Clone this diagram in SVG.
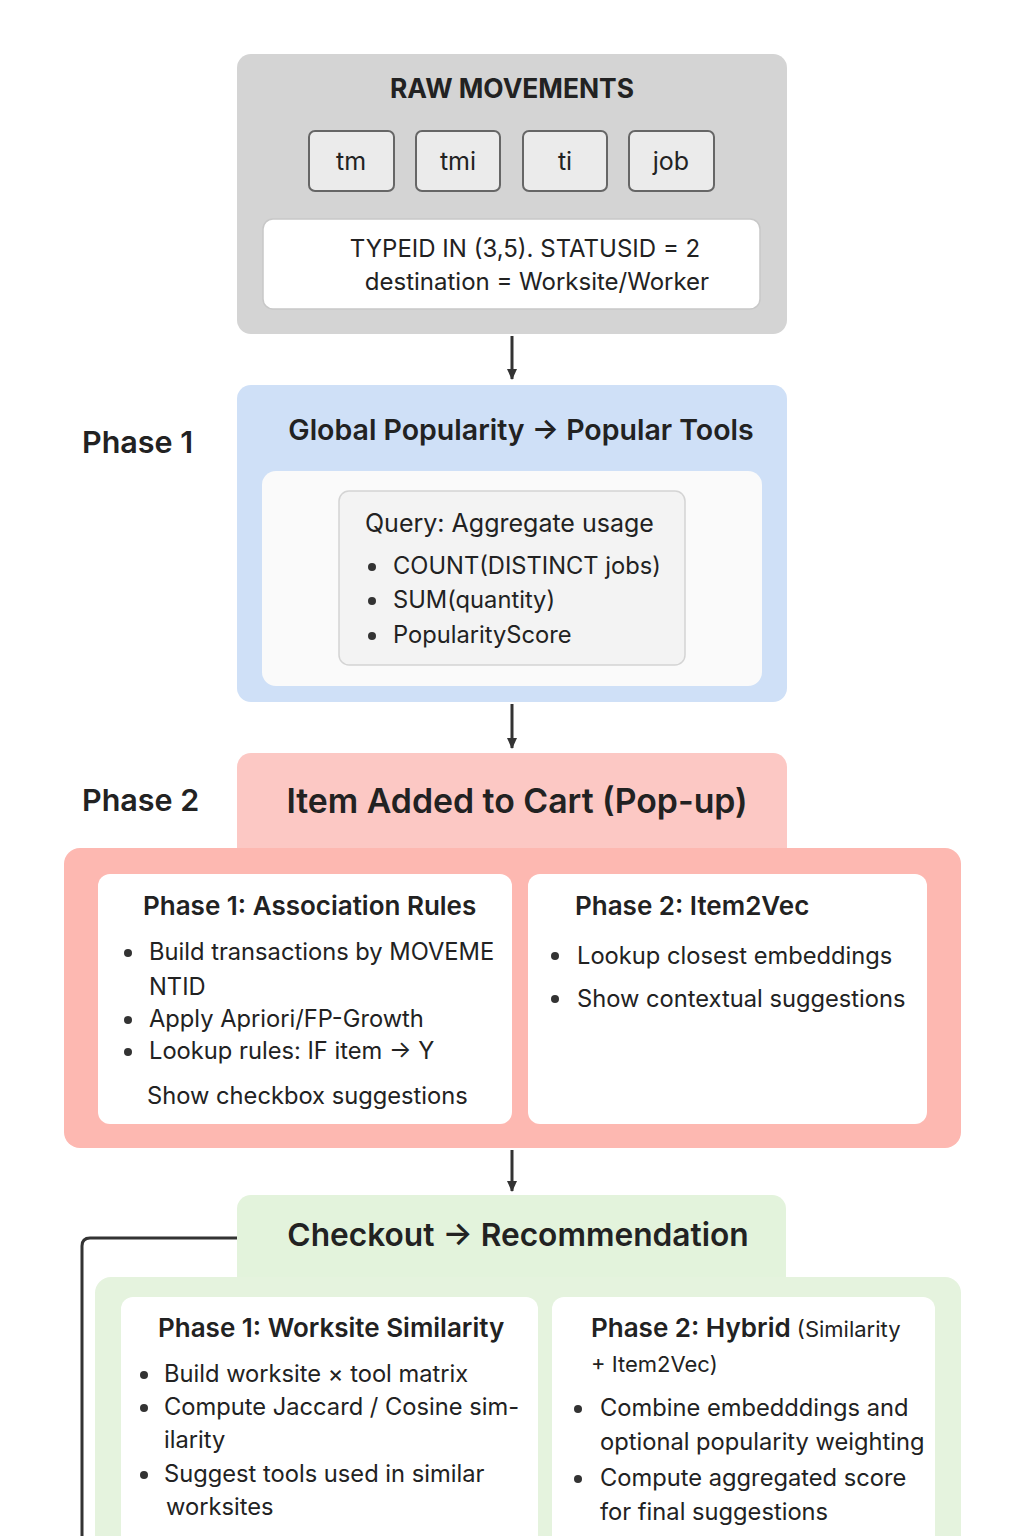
<svg xmlns="http://www.w3.org/2000/svg" width="1024" height="1536" viewBox="0 0 1024 1536">
<defs>
<marker id="ah" markerWidth="12" markerHeight="12" refX="10" refY="6" orient="auto" markerUnits="userSpaceOnUse">
<path d="M0,1 L11,6 L0,11 Z" fill="#333"/>
</marker>
<style>
text{font-family:Inter,"Noto Sans","Liberation Sans",sans-serif;fill:#222}
.t{font-size:23.7px}
.h{font-size:26px;font-weight:600}
.lbl{font-size:30.5px;font-weight:600}
.chip{fill:#ebebeb;stroke:#666;stroke-width:2}
.chipt{font-size:25px}
.card{fill:#fff}
.conn{stroke:#333;stroke-width:3;fill:none}
</style>
</defs>
<rect width="1024" height="1536" fill="#fff"/>

<g id="raw">
<rect x="237" y="54" width="550" height="280" rx="14" fill="#d4d4d4"/>
<text x="512" y="98" text-anchor="middle" style="font-size:26.4px;font-weight:700">RAW MOVEMENTS</text>
<rect class="chip" x="309" y="131" width="85" height="60" rx="6"/>
<text class="chipt" x="351" y="170" text-anchor="middle">tm</text>
<rect class="chip" x="416" y="131" width="84" height="60" rx="6"/>
<text class="chipt" x="458" y="170" text-anchor="middle">tmi</text>
<rect class="chip" x="523" y="131" width="84" height="60" rx="6"/>
<text class="chipt" x="565" y="170" text-anchor="middle">ti</text>
<rect class="chip" x="629" y="131" width="85" height="60" rx="6"/>
<text class="chipt" x="671" y="170" text-anchor="middle">job</text>
<rect x="263" y="219" width="497" height="90" rx="10" fill="#fff" stroke="#c8c8c8" stroke-width="1.5"/>
<text x="525" y="257" text-anchor="middle" style="font-size:24px">TYPEID  IN (3,5). STATUSID = 2</text>
<text x="537" y="290" text-anchor="middle" style="font-size:24px">destination = Worksite/Worker</text>
</g>

<text class="lbl" x="82" y="453">Phase 1</text>
<g id="phase1">
<rect x="237" y="385" width="550" height="317" rx="14" fill="#cfe0f7"/>
<text x="521" y="440" text-anchor="middle" style="font-size:28.5px;font-weight:600">Global Popularity  → Popular Tools</text>
<rect x="262" y="471" width="500" height="215" rx="14" fill="#fafafa"/>
<rect x="339" y="491" width="346" height="174" rx="10" fill="#f3f3f3" stroke="#d4d4d4" stroke-width="1.5"/>
<text x="365" y="532" style="font-size:25px">Query: Aggregate usage</text>
<circle cx="372" cy="567" r="4" fill="#333"/>
<text class="t" x="393" y="574">COUNT(DISTINCT jobs)</text>
<circle cx="372" cy="601" r="4" fill="#333"/>
<text class="t" x="393" y="608">SUM(quantity)</text>
<circle cx="372" cy="636" r="4" fill="#333"/>
<text class="t" x="393" y="643">PopularityScore</text>
</g>

<text class="lbl" x="82" y="811">Phase 2</text>
<g id="phase2">
<rect x="237" y="753" width="550" height="110" rx="14" fill="#fcc8c4"/>
<rect x="64" y="848" width="897" height="300" rx="16" fill="#fdb8b1"/>
<text x="517" y="813" text-anchor="middle" style="font-size:33.8px;font-weight:600">Item Added to Cart (Pop-up)</text>
<rect class="card" x="98" y="874" width="414" height="250" rx="12"/>
<text class="h" x="143" y="915">Phase 1: Association Rules</text>
<circle cx="128" cy="953" r="4" fill="#333"/>
<text class="t" x="149" y="960">Build transactions by MOVEME</text>
<text class="t" x="149" y="995">NTID</text>
<circle cx="128" cy="1020" r="4" fill="#333"/>
<text class="t" x="149" y="1027">Apply Apriori/FP-Growth</text>
<circle cx="128" cy="1052" r="4" fill="#333"/>
<text class="t" x="149" y="1059">Lookup rules: IF item → Y</text>
<text class="t" x="147" y="1104">Show checkbox suggestions</text>
<rect class="card" x="528" y="874" width="399" height="250" rx="12"/>
<text class="h" x="575" y="915">Phase 2: Item2Vec</text>
<circle cx="555" cy="956" r="4" fill="#333"/>
<text class="t" x="577" y="964">Lookup closest embeddings</text>
<circle cx="555" cy="999" r="4" fill="#333"/>
<text class="t" x="577" y="1007">Show contextual suggestions</text>
</g>

<g id="checkout">
<rect x="237" y="1195" width="549" height="100" rx="14" fill="#e3f3dc"/>
<rect x="95" y="1277" width="866" height="290" rx="16" fill="#e5f3de"/>
<text x="518" y="1246" text-anchor="middle" style="font-size:31.7px;font-weight:600">Checkout → Recommendation</text>
<rect class="card" x="121" y="1297" width="417" height="260" rx="12"/>
<text class="h" x="158" y="1337">Phase 1: Worksite Similarity</text>
<circle cx="144" cy="1375" r="4" fill="#333"/>
<text class="t" x="164" y="1382">Build worksite × tool matrix</text>
<circle cx="144" cy="1408" r="4" fill="#333"/>
<text class="t" x="164" y="1415">Compute Jaccard / Cosine sim-</text>
<text class="t" x="164" y="1448">ilarity</text>
<circle cx="144" cy="1475" r="4" fill="#333"/>
<text class="t" x="164" y="1482">Suggest tools used in similar</text>
<text class="t" x="166" y="1515">worksites</text>
<rect class="card" x="552" y="1297" width="383" height="260" rx="12"/>
<text x="591" y="1337"><tspan class="h">Phase 2: Hybrid</tspan><tspan style="font-size:22px"> (Similarity</tspan></text>
<text x="591" y="1372" style="font-size:22px">+ Item2Vec)</text>
<circle cx="578" cy="1409" r="4" fill="#333"/>
<text class="t" x="600" y="1416">Combine embedddings and</text>
<text class="t" x="600" y="1450">optional popularity weighting</text>
<circle cx="578" cy="1479" r="4" fill="#333"/>
<text class="t" x="600" y="1486">Compute aggregated score</text>
<text class="t" x="600" y="1520">for final suggestions</text>
</g>

<g id="connectors">
<line class="conn" x1="512" y1="336" x2="512" y2="379" marker-end="url(#ah)"/>
<line class="conn" x1="512" y1="704" x2="512" y2="748" marker-end="url(#ah)"/>
<line class="conn" x1="512" y1="1150" x2="512" y2="1191" marker-end="url(#ah)"/>
<path class="conn" d="M237,1238 H90 Q82,1238 82,1246 V1536"/>
</g>
</svg>
